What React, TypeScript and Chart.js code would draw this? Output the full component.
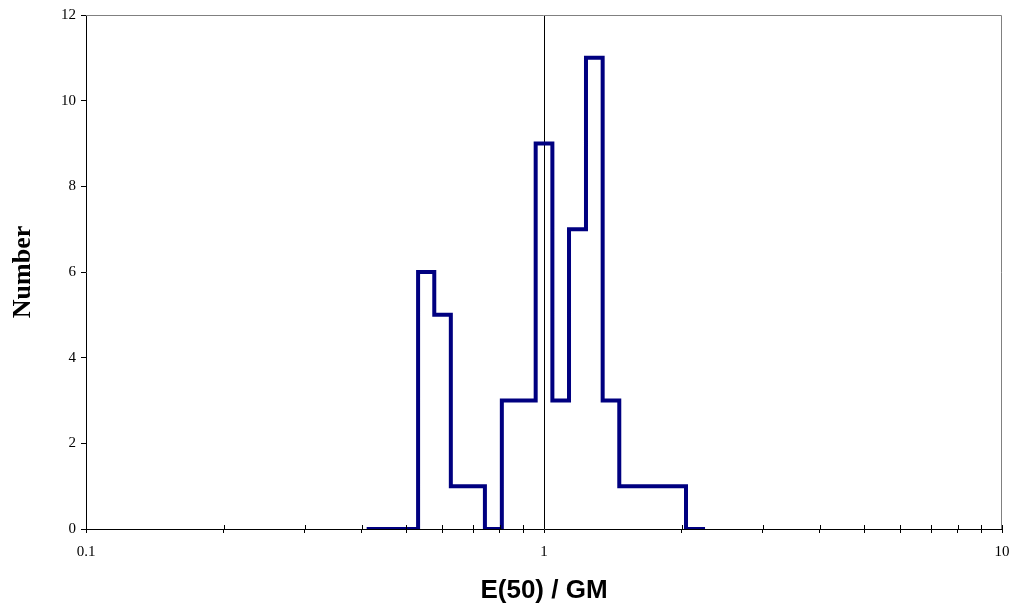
import React, { useEffect, useRef } from "react";
import { Chart, registerables } from "chart.js";

Chart.register(...registerables);

// Bin edges on the E(50)/GM axis (log scale)
const binEdges = [0.41, 0.531, 0.576, 0.626, 0.743, 0.809, 0.959, 1.043, 1.134, 1.235, 1.343, 1.46, 2.042, 2.247];
// Count in the bin that starts at each edge (last value closes the step)
const binCounts = [0, 6, 5, 1, 0, 3, 9, 3, 7, 11, 3, 1, 0, 0];
const xTickValues = [0.1, 0.2, 0.3, 0.4, 0.5, 0.6, 0.7, 0.8, 0.9, 1, 2, 3, 4, 5, 6, 7, 8, 9, 10];
const xTickLabels = [0.1, 1, 10];
const yTickValues = [0, 2, 4, 6, 8, 10, 12];

const frameBorder = {
  id: "frameBorder",
  beforeDatasetsDraw(chart: any) {
    const { ctx, chartArea } = chart;
    ctx.save();
    ctx.strokeStyle = "#808080";
    ctx.lineWidth = 1;
    ctx.beginPath();
    ctx.moveTo(chartArea.left, chartArea.top + 0.5);
    ctx.lineTo(chartArea.right - 0.5, chartArea.top + 0.5);
    ctx.lineTo(chartArea.right - 0.5, chartArea.bottom);
    ctx.stroke();
    ctx.restore();
  },
  afterDraw(chart: any) {
    const { ctx, chartArea } = chart;
    const xs = chart.scales.x;
    ctx.save();
    ctx.strokeStyle = "#000";
    ctx.lineWidth = 1;
    ctx.beginPath();
    for (const v of xTickValues) {
      const px = Math.round(xs.getPixelForValue(v)) + 0.5;
      ctx.moveTo(px, chartArea.bottom);
      ctx.lineTo(px, chartArea.bottom - 4);
    }
    ctx.stroke();
    ctx.restore();
  },
};

export default function App() {
  const ref = useRef<HTMLCanvasElement>(null);
  useEffect(() => {
    if (!ref.current) return;
    const chart = new Chart(ref.current, {
      type: "line",
      data: {
        datasets: [
          {
            data: binEdges.map((e, i) => ({ x: e, y: binCounts[i] })),
            stepped: "before",
            borderColor: "#000080",
            borderWidth: 4,
            pointRadius: 0,
            fill: false,
            borderJoinStyle: "miter",
          } as any,
        ],
      },
      options: {
        animation: false,
        responsive: true,
        maintainAspectRatio: false,
        layout: { padding: { left: 0, top: 15, right: 10, bottom: 0 } },
        plugins: { legend: { display: false }, tooltip: { enabled: false } },
        scales: {
          x: {
            type: "logarithmic",
            min: 0.1,
            max: 10,
            afterBuildTicks: (scale: any) => {
              scale.ticks = xTickValues.map((v) => ({ value: v }));
            },
            afterFit: (scale: any) => {
              scale.height = 77;
              scale.paddingLeft = 0;
              scale.paddingRight = 0;
            },
            ticks: {
              autoSkip: false,
              maxRotation: 0,
              padding: 10,
              color: "#000",
              font: { family: "'Liberation Serif', 'Times New Roman', serif", size: 15 },
              callback: (v: any) => (xTickLabels.includes(Number(v)) ? String(v) : ""),
            },
            grid: {
              drawOnChartArea: true,
              color: (c: any) => (c.tick && c.tick.value === 1 ? "#000" : "rgba(0,0,0,0)"),
              tickColor: "#000",
              tickLength: 4,
              lineWidth: 1,
            },
            border: { color: "#000", width: 1 },
            title: {
              display: true,
              text: "E(50) / GM",
              color: "#000",
              font: { family: "'Liberation Sans', Arial, sans-serif", size: 26, weight: "bold" },
              padding: { top: 4, bottom: 0 },
            },
          },
          y: {
            min: 0,
            max: 12,
            afterBuildTicks: (scale: any) => {
              scale.ticks = yTickValues.map((v) => ({ value: v }));
            },
            afterFit: (scale: any) => {
              scale.width = 86;
            },
            ticks: {
              padding: 5,
              color: "#000",
              font: { family: "'Liberation Serif', 'Times New Roman', serif", size: 15 },
            },
            grid: {
              drawOnChartArea: false,
              tickColor: "#000",
              tickLength: 5,
            },
            border: { color: "#000", width: 1 },
            title: {
              display: true,
              text: "Number",
              color: "#000",
              font: { family: "'Liberation Serif', 'Times New Roman', serif", size: 26, weight: "bold" },
              padding: { top: 8, bottom: 10 },
            },
          },
        },
      },
      plugins: [frameBorder],
    });
    return () => chart.destroy();
  }, []);
  return (
    <div style={{ position: "fixed", left: 0, top: 0, width: 1012, height: 606, background: "#fff" }}>
      <canvas ref={ref} />
    </div>
  );
}
